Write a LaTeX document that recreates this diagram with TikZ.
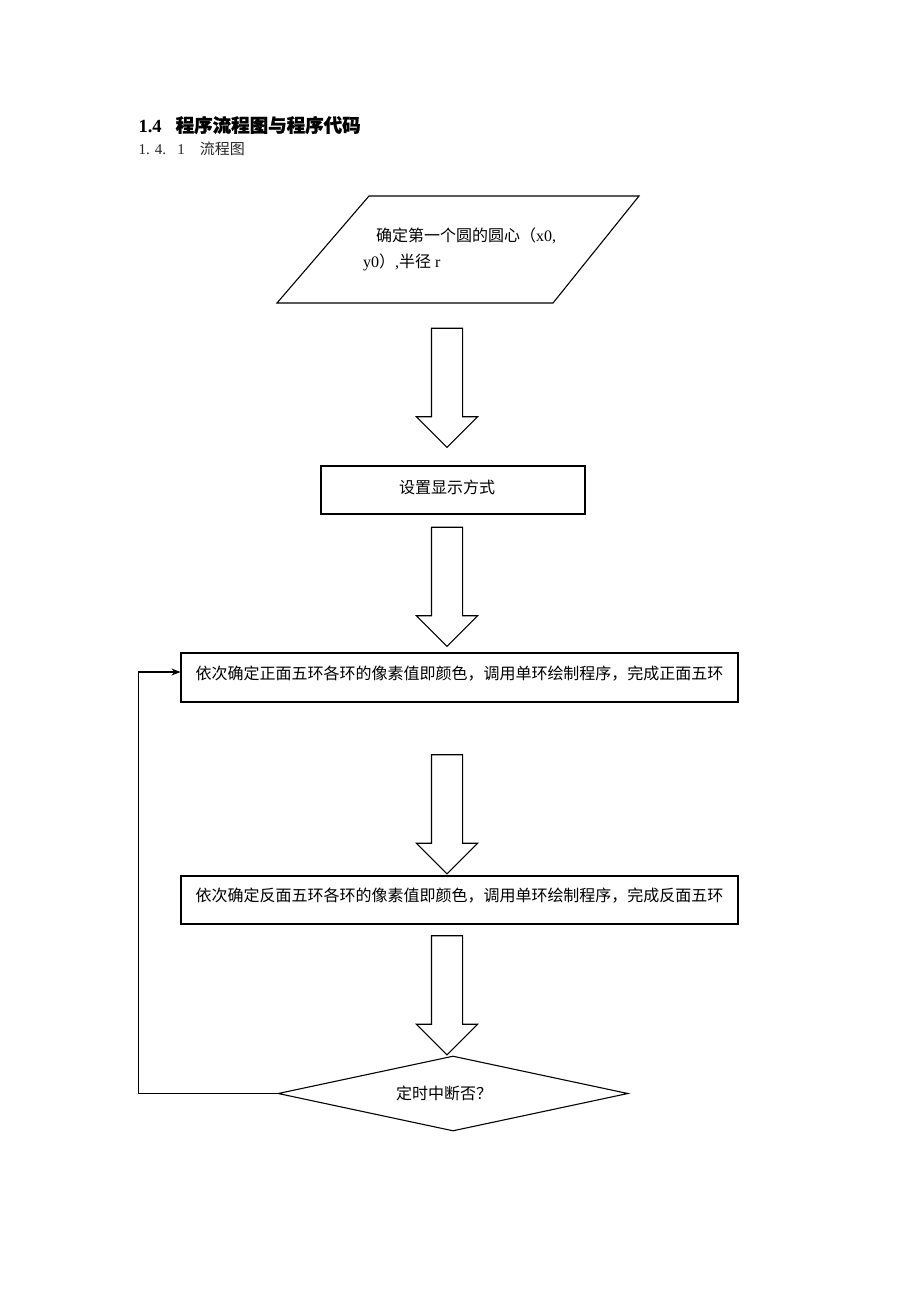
\documentclass[tikz,border=0pt]{standalone}
\usepackage{fontspec}
\setmainfont{Liberation Serif}
\newfontfamily\cjk{Noto Sans CJK SC}
\newfontfamily\cjkbf[FakeBold=1]{Noto Sans CJK SC}
\usetikzlibrary{shapes.geometric,shapes.arrows,arrows.meta,positioning}

\begin{document}
\begin{tikzpicture}[x=1pt,y=-1pt,line width=1.1pt,
	txt/.style={font=\fontsize{16}{26}\selectfont},
	box/.style={draw,rectangle,inner sep=0pt,txt},
	blockarrow/.style={draw,single arrow,rotate=-90,minimum height=119pt,minimum width=60pt,
		single arrow head extend=15pt,single arrow tip angle=90,single arrow head indent=0pt,inner xsep=0pt,inner ysep=15pt}]
		\useasboundingbox[fill=white] (0,0) rectangle (920,1302);
		\node[anchor=west,inner sep=0pt] (title) at (138,125) {\fontsize{18.5}{20}\selectfont\bfseries 1.4\hspace{14pt}{\cjkbf 程序流程图与程序代码}};
		\node[anchor=west,inner sep=0pt,black!85] (sub) at (138,149) {\fontsize{15}{18}\selectfont 1.\,\,4.\ \ \ 1\ \ \ \ {\cjk 流程图}};
		\node[inner sep=0pt,txt,align=left] (in) at (459.5,249.5)
			{\hspace{13pt}{\cjk 确定第一个圆的圆心（}x0,\\y0{\cjk ）},{\cjk 半径} r};
		\draw ([shift={(-90.5,-53.5)}]in.center) -- ([shift={(179.5,-53.5)}]in.center)
			-- ([shift={(93.5,53.5)}]in.center) -- ([shift={(-182.5,53.5)}]in.center) -- cycle;
		\node[box,minimum width=264pt,text height=27pt,text depth=21pt] (mode) at (453,490) {{\cjk 设置显示方式}\kern12pt};
		\node[box,minimum width=557pt,text height=26pt,text depth=23pt] (front) at (459.5,677.5)
			{\cjk 依次确定正面五环各环的像素值即颜色，调用单环绘制程序，完成正面五环};
		\node[box,minimum width=557pt,text height=25pt,text depth=23pt] (back) at (459.5,900)
			{\cjk 依次确定反面五环各环的像素值即颜色，调用单环绘制程序，完成反面五环};
		\node[draw,diamond,aspect=4.6,minimum width=350pt,minimum height=75pt,inner sep=0pt,txt] (timer) at (453,1093.5)
			{{\cjk 定时中断否？}\kern18pt};
		\foreach \n/\y in {a1/380,a2/579,a3/806.5,a4/987.5} \node[blockarrow] (\n) at (447,\y) {};
		\draw[-{Stealth[length=9pt,width=7pt]}] (timer.west) -- ++(-139,0) |- ([yshift=5.5pt]front.west);
		\end{tikzpicture}
\end{document}
